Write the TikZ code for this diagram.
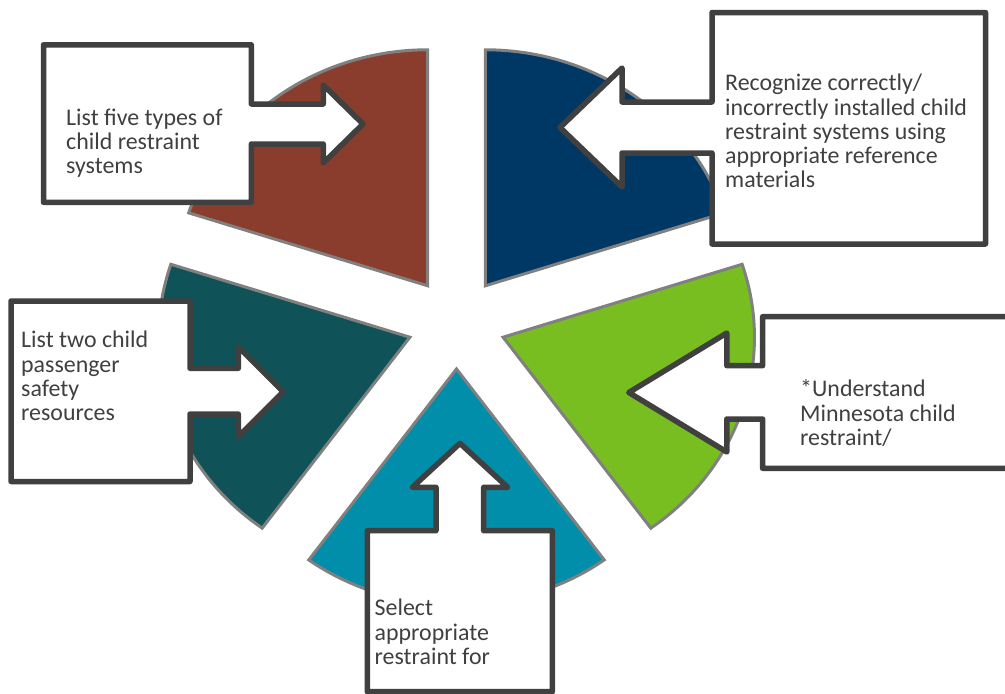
\documentclass[tikz,border=0pt]{standalone}
\usepackage{fontspec}
\setmainfont{Carlito}
\definecolor{cbrown}{RGB}{139,61,45}
\definecolor{cnavy}{RGB}{0,56,101}
\definecolor{cgreen}{RGB}{120,190,32}
\definecolor{cteal}{RGB}{0,142,170}
\definecolor{cdark}{RGB}{15,82,87}
\definecolor{sectorline}{RGB}{128,128,128}
\definecolor{calloutline}{RGB}{64,64,64}
\definecolor{textc}{RGB}{64,64,64}
\newcommand{\mltext}[1]{\begin{tabular}[t]{@{}l@{}}#1\end{tabular}}
\begin{document}
\begin{tikzpicture}[x=1pt,y=1pt,
  sector/.style={draw=sectorline, line width=3pt, line join=miter},
  callout/.style={draw=calloutline, fill=white, line width=5.5pt, line join=round},
  lbl/.style={inner sep=0pt, anchor=base west, text=textc,
    font=\fontsize{23.9}{24.3}\selectfont}]
\clip (0,0) rectangle (1005,-694);
\useasboundingbox (0,0) rectangle (1005,-694);
% sectors
\begin{scope}[shift={(456.5,-323)}, xscale=1.065]
  \fill[cnavy, sector] (54:46) -- ++(18:236) arc[start angle=18, end angle=90, radius=236] -- cycle;
  \fill[cbrown, sector] (126:46) -- ++(90:236) arc[start angle=90, end angle=162, radius=236] -- cycle;
  \fill[cdark, sector] (198:46) -- ++(162:236) arc[start angle=162, end angle=234, radius=236] -- cycle;
  \fill[cteal, sector] (270:46) -- ++(234:236) arc[start angle=234, end angle=306, radius=236] -- cycle;
  \fill[cgreen, sector] (342:46) -- ++(306:236) arc[start angle=306, end angle=378, radius=236] -- cycle;
\end{scope}
% callouts
\draw[callout] (43.5,-44.8) -- (251.3,-44.8) -- (251.3,-104) -- (323.3,-104) -- (323.3,-85)
  -- (363,-124) -- (323.3,-163) -- (323.3,-144) -- (251.3,-144) -- (251.3,-202.3) -- (43.5,-202.3) -- cycle;
\draw[callout] (712,-12.5) -- (985.5,-12.5) -- (985.5,-244) -- (712,-244) -- (712,-153) -- (622,-153)
  -- (622,-187) -- (560,-127.5) -- (622,-68) -- (622,-102) -- (712,-102) -- cycle;
\draw[callout] (11,-301) -- (190,-301) -- (190,-368.3) -- (238.3,-368.3) -- (238.3,-346.7)
  -- (283.3,-391.7) -- (238.3,-436.7) -- (238.3,-414) -- (190,-414) -- (190,-481.5) -- (11,-481.5) -- cycle;
\draw[callout] (762.6,-316.7) -- (1020,-316.7) -- (1020,-468.3) -- (762.6,-468.3) -- (762.6,-419)
  -- (726.8,-419) -- (726.8,-452) -- (628.8,-392.5) -- (726.8,-333) -- (726.8,-365.7) -- (762.6,-365.7) -- cycle;
\draw[callout] (367.3,-530.7) -- (436,-530.7) -- (436,-487.3) -- (412.3,-487.3) -- (460,-443.3)
  -- (507.7,-487.3) -- (483.7,-487.3) -- (483.7,-530.7) -- (552.3,-530.7) -- (552.3,-691.7) -- (367.3,-691.7) -- cycle;
% texts
\node[lbl] (t1) at (66,-125) {\mltext{List five types of\\child restraint\\systems}};
\node[lbl] (t2) at (725,-90.7) {\mltext{Recognize correctly/\\incorrectly installed child\\restraint systems using\\appropriate reference\\materials}};
\node[lbl] (t3) at (21,-347.7) {\mltext{List two child\\passenger\\safety\\resources}};
\node[lbl] (t4) at (800,-396.7) {\mltext{*Understand\\Minnesota child\\restraint/}};
\node[lbl] (t5) at (374.5,-615.7) {\mltext{Select\\appropriate\\restraint for}};
\end{tikzpicture}
\end{document}
